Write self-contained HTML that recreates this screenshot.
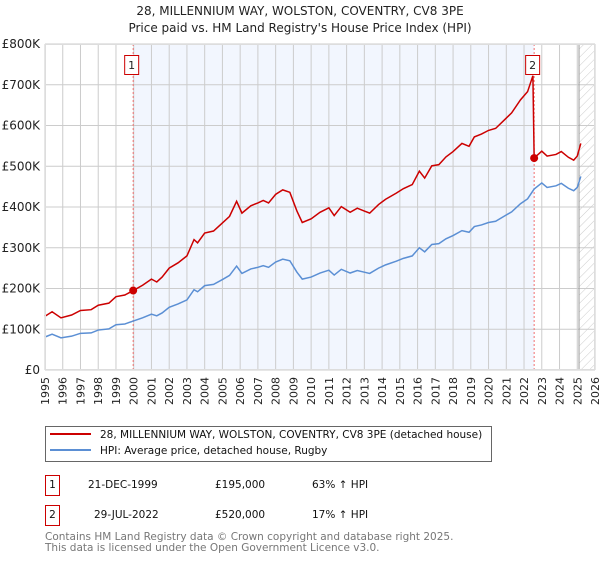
<!DOCTYPE html>
<html><head><meta charset="utf-8"><style>
body{margin:0;background:#fff;width:600px;height:560px;overflow:hidden;font-family:"DejaVu Sans","Liberation Sans",sans-serif;}
svg text{font-family:"DejaVu Sans","Liberation Sans",sans-serif;}
</style></head><body>
<svg id="chart" width="600" height="560" xmlns="http://www.w3.org/2000/svg">
<defs><pattern id="hatch" width="6" height="6" patternUnits="userSpaceOnUse" patternTransform="rotate(45)"><line x1="0" y1="0" x2="0" y2="6" stroke="#ccc" stroke-width="1"/></pattern></defs>
<text x="300" y="15" text-anchor="middle" font-size="12" fill="#222">28, MILLENNIUM WAY, WOLSTON, COVENTRY, CV8 3PE</text>
<text x="300" y="32" text-anchor="middle" font-size="12" fill="#222">Price paid vs. HM Land Registry's House Price Index (HPI)</text>
<g id="plot"></g>
<g>
<rect x="45.5" y="426.5" width="446" height="35" fill="#fff" stroke="#666"/>
<line x1="50" y1="434" x2="91" y2="434" stroke="#cc0000" stroke-width="2"/>
<text x="100" y="438" font-size="10.5" fill="#111">28, MILLENNIUM WAY, WOLSTON, COVENTRY, CV8 3PE (detached house)</text>
<line x1="50" y1="450" x2="91" y2="450" stroke="#5b8fd4" stroke-width="2"/>
<text x="100" y="454" font-size="10.5" fill="#111">HPI: Average price, detached house, Rugby</text>
</g>
<g font-size="10.5" fill="#111">
<rect x="45.5" y="475.5" width="14" height="20" fill="#fff" stroke="#cc0000"/>
<text x="52.5" y="488" text-anchor="middle">1</text>
<text x="88" y="488">21-DEC-1999</text>
<text x="215" y="488">£195,000</text>
<text x="312" y="488">63% ↑ HPI</text>
<rect x="45.5" y="505.5" width="14" height="20" fill="#fff" stroke="#cc0000"/>
<text x="52.5" y="518" text-anchor="middle">2</text>
<text x="94" y="518">29-JUL-2022</text>
<text x="215" y="518">£520,000</text>
<text x="312" y="518">17% ↑ HPI</text>
</g>
<text x="45" y="540" font-size="10.5" fill="#777">Contains HM Land Registry data © Crown copyright and database right 2025.</text>
<text x="45" y="551" font-size="10.5" fill="#777">This data is licensed under the Open Government Licence v3.0.</text>
</svg>
<script>
const yTicks=[0,100,200,300,400,500,600,700,800];
const yTickLabels=["£0","£100K","£200K","£300K","£400K","£500K","£600K","£700K","£800K"];
const years=[1995,1996,1997,1998,1999,2000,2001,2002,2003,2004,2005,2006,2007,2008,2009,2010,2011,2012,2013,2014,2015,2016,2017,2018,2019,2020,2021,2022,2023,2024,2025,2026];
const hpiT=[1995.0,1995.4,1995.9,1996.5,1997.0,1997.6,1998.0,1998.6,1999.0,1999.5,1999.97,2000.5,2001.0,2001.3,2001.6,2002.0,2002.5,2003.0,2003.4,2003.6,2004.0,2004.5,2005.0,2005.4,2005.8,2006.1,2006.6,2007.0,2007.3,2007.6,2008.0,2008.4,2008.8,2009.2,2009.5,2010.0,2010.5,2011.0,2011.3,2011.7,2012.2,2012.6,2013.0,2013.3,2013.8,2014.2,2014.8,2015.2,2015.7,2016.1,2016.4,2016.8,2017.2,2017.6,2018.0,2018.5,2018.9,2019.2,2019.6,2020.0,2020.4,2020.9,2021.3,2021.8,2022.2,2022.57,2023.0,2023.3,2023.8,2024.1,2024.5,2024.8,2025.0,2025.2];
const hpiV=[81,88,79,83,90,91,98,101,111,113,120,128,137,133,140,154,162,172,197,192,207,210,222,232,255,237,248,252,256,252,265,272,268,240,223,228,238,245,233,247,238,244,240,237,250,258,267,274,280,300,290,308,310,322,330,342,338,352,356,362,365,378,388,408,420,444,459,448,452,458,446,440,448,475];
const priceT=[1995.0,1995.4,1995.9,1996.5,1997.0,1997.6,1998.0,1998.6,1999.0,1999.5,1999.97,2000.5,2001.0,2001.3,2001.6,2002.0,2002.5,2003.0,2003.4,2003.6,2004.0,2004.5,2005.0,2005.4,2005.8,2006.1,2006.6,2007.0,2007.3,2007.6,2008.0,2008.4,2008.8,2009.2,2009.5,2010.0,2010.5,2011.0,2011.3,2011.7,2012.2,2012.6,2013.0,2013.3,2013.8,2014.2,2014.8,2015.2,2015.7,2016.1,2016.4,2016.8,2017.2,2017.6,2018.0,2018.5,2018.9,2019.2,2019.6,2020.0,2020.4,2020.9,2021.3,2021.8,2022.2,2022.5,2022.57,2023.0,2023.3,2023.8,2024.1,2024.5,2024.8,2025.0,2025.2];
const priceV=[132,143,128,135,146,148,159,164,180,184,195,208,223,216,228,250,263,280,320,312,336,341,361,377,414,385,403,410,416,410,431,442,436,390,362,371,387,398,379,401,387,397,390,385,406,419,434,445,455,488,471,501,504,523,536,556,549,572,579,588,593,614,631,663,683,722,520,537,525,529,536,522,515,525,556];
const saleT=[1999.97,2022.57];
const saleV=[195,520];
const saleLabels=["1","2"];

const X0=45,X1=595,Y0=370,Y1=44;
const xs=t=>X0+(t-1995)/(2026-1995)*(X1-X0);
const ys=v=>Y0-v/800*(Y0-Y1);
const NS="http://www.w3.org/2000/svg";
const g=document.getElementById('plot');
function mk(tag,attrs,parent){const e=document.createElementNS(NS,tag);for(const k in attrs)e.setAttribute(k,attrs[k]);(parent||g).appendChild(e);return e;}

const bg=mk('rect',{x:X0,y:Y1,width:X1-X0,height:Y0-Y1,fill:'#fff'});


const sh=mk('rect',{x:xs(saleT[0]),y:Y1,width:xs(saleT[1])-xs(saleT[0]),height:Y0-Y1,fill:'#eef3fd',opacity:0.75});


const hx=mk('rect',{x:xs(2025.1),y:Y1,width:X1-xs(2025.1),height:Y0-Y1,fill:'url(#hatch)'});



years.forEach(y=>{const l=mk('line',{x1:xs(y),x2:xs(y),y1:Y1,y2:Y0,stroke:'#ccc','stroke-width':1});


const t=mk('text',{x:0,y:0,'font-size':11,fill:'#222','text-anchor':'end',transform:`translate(${xs(y)+4},${Y0+7}) rotate(-90)`});


t.textContent=y;});
yTicks.forEach((v,i)=>{const l=mk('line',{x1:X0,x2:X1,y1:ys(v),y2:ys(v),stroke:'#ccc','stroke-width':1});


const t=mk('text',{x:X0-5,y:ys(v)+4,'font-size':12,fill:'#222','text-anchor':'end'});


t.textContent=yTickLabels[i];});
const bx=mk('line',{x1:xs(2025.1),x2:xs(2025.1),y1:Y1,y2:Y0,stroke:'#999','stroke-width':1});



saleT.forEach((t,i)=>{const l=mk('line',{x1:xs(t),x2:xs(t),y1:Y1,y2:Y0,stroke:'#f07070','stroke-width':1,'stroke-dasharray':'2,2'});

});

const hp=mk('polyline',{points:hpiT.map((t,i)=>xs(t)+','+ys(hpiV[i])).join(' '),fill:'none',stroke:'#5b8fd4','stroke-width':1.5});


const pp=mk('polyline',{points:priceT.map((t,i)=>xs(t)+','+ys(priceV[i])).join(' '),fill:'none',stroke:'#cc0000','stroke-width':1.5});



saleT.forEach((t,i)=>{const c=mk('circle',{cx:xs(t),cy:ys(saleV[i]),r:4,fill:'#cc0000'});


const bxl=mk('rect',{x:xs(t)-8.5,y:55.5,width:14,height:19,fill:'#fff',stroke:'#cc0000'});


const tx=mk('text',{x:xs(t)-1.5,y:69,'font-size':11,fill:'#222','text-anchor':'middle'});


tx.textContent=saleLabels[i];});
const fr=mk('rect',{x:X0+0.5,y:Y1+0.5,width:X1-X0-1,height:Y0-Y1-1,fill:'none',stroke:'#ddd'});


</script>
</body></html>
